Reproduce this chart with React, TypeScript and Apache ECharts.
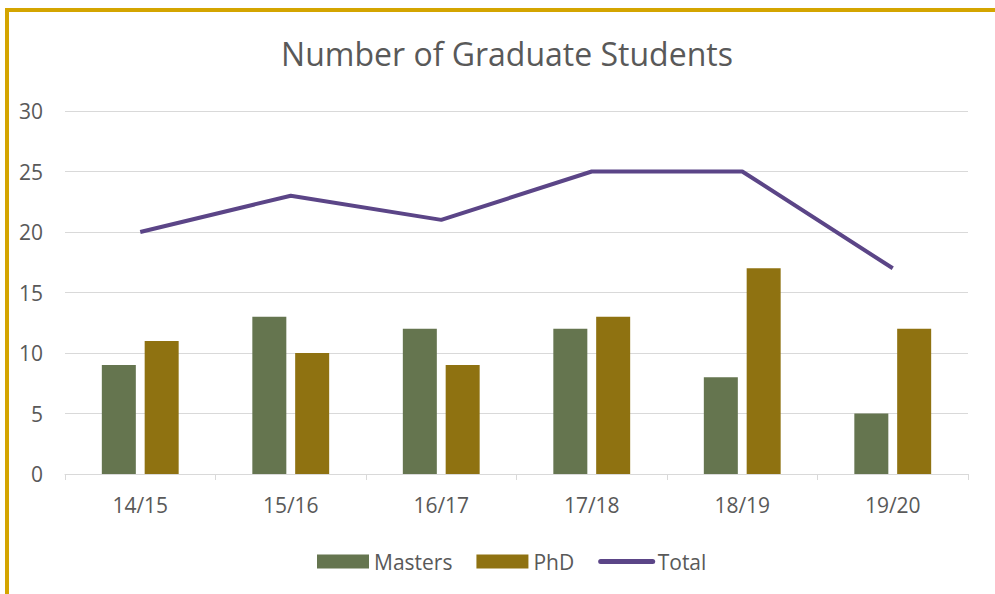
import React, { useEffect, useRef } from "react";
import * as echarts from "echarts";

const categories = ["14/15", "15/16", "16/17", "17/18", "18/19", "19/20"];
const masters = [9, 13, 12, 12, 8, 5];
const phd = [11, 10, 9, 13, 17, 12];
const total = [20, 23, 21, 25, 25, 17];
const titleText = "Number of Graduate Students";

const FONT = "'Open Sans', 'Noto Sans', sans-serif";
const TEXT = "#595959";

export default function App() {
  const ref = useRef<HTMLDivElement>(null);
  useEffect(() => {
    if (!ref.current) return;
    const chart = echarts.init(ref.current, undefined, { renderer: "svg" });
    chart.setOption({
      animation: false,
      backgroundColor: "transparent",
      textStyle: { fontFamily: FONT },
      graphic: [
        {
          type: "text",
          x: 507,
          y: 53,
          style: {
            text: titleText,
            textAlign: "center",
            textVerticalAlign: "middle",
            fontFamily: FONT,
            fontSize: 32,
            fill: TEXT,
          },
        },
      ],
      legend: {
        bottom: 17,
        left: 312,
        itemWidth: 52,
        itemHeight: 14,
        itemGap: 24,
        textStyle: { fontFamily: FONT, fontSize: 21, color: TEXT },
        data: [
          { name: "Masters", icon: "rect" },
          { name: "PhD", icon: "rect" },
          { name: "Total", itemStyle: { opacity: 0 }, lineStyle: { width: 5, cap: "round" } },
        ],
      },
      grid: { left: 65, right: 27, top: 111, bottom: 120, containLabel: false },
      xAxis: {
        type: "category",
        data: categories,
        boundaryGap: true,
        axisLine: { lineStyle: { color: "#D9D9D9", width: 1 } },
        axisTick: { show: true, length: 6, lineStyle: { color: "#D9D9D9" } },
        axisLabel: { fontFamily: FONT, fontSize: 21, color: TEXT, margin: 20 },
      },
      yAxis: {
        type: "value",
        min: 0,
        max: 30,
        interval: 5,
        axisLine: { show: false },
        axisTick: { show: false },
        axisLabel: { fontFamily: FONT, fontSize: 21, color: TEXT, margin: 22 },
        splitLine: { lineStyle: { color: "#D9D9D9", width: 1 } },
      },
      series: [
        {
          name: "Masters",
          type: "bar",
          data: masters,
          barWidth: 34,
          barGap: "26%",
          itemStyle: { color: "#65754F" },
        },
        {
          name: "PhD",
          type: "bar",
          data: phd,
          barWidth: 34,
          barGap: "26%",
          itemStyle: { color: "#8F7211" },
        },
        {
          name: "Total",
          type: "line",
          data: total,
          symbol: "none",
          showSymbol: false,
          lineStyle: { color: "#5B4587", width: 4 },
          itemStyle: { color: "#5B4587" },
        },
      ],
    });
    return () => chart.dispose();
  }, []);
  return (
    <div style={{ position: "absolute", left: 0, top: 0, width: 995, height: 594, overflow: "hidden", background: "#fff" }}>
      <div
        style={{
          position: "absolute",
          left: 5,
          top: 8,
          width: 1100,
          height: 700,
          border: "4px solid #D4A500",
          boxSizing: "border-box",
        }}
      />
      <div ref={ref} style={{ position: "absolute", left: 0, top: 0, width: 995, height: 594 }} />
    </div>
  );
}
